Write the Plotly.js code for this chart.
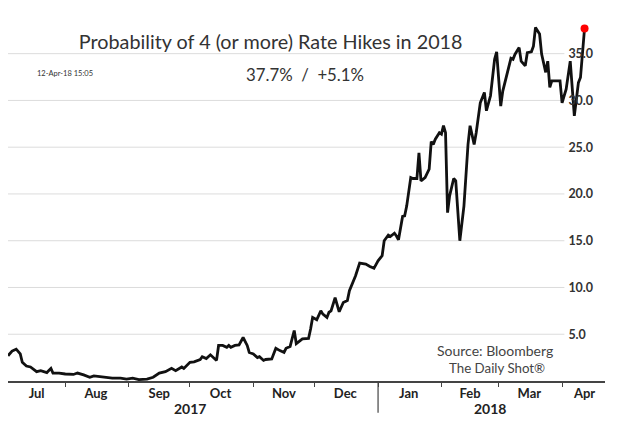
<!DOCTYPE html>
<html>
<head>
<meta charset="utf-8">
<script src="https://cdn.plot.ly/plotly-3.0.1.min.js"></script>
<style>html,body{margin:0;padding:0;background:#fff;}#chart{width:619px;height:428px;}</style>
</head>
<body>
<div id="chart"></div>
<script>
// Probability of 4 (or more) rate hikes in 2018 (%)
var dates = [
  '2017-07-04','2017-07-06','2017-07-08','2017-07-10','2017-07-11','2017-07-13','2017-07-15','2017-07-18','2017-07-20','2017-07-23',
  '2017-07-25','2017-07-26','2017-07-29','2017-08-01','2017-08-05','2017-08-07','2017-08-10','2017-08-13','2017-08-15','2017-08-18',
  '2017-08-21','2017-08-24','2017-08-28','2017-08-31','2017-09-03','2017-09-06','2017-09-10','2017-09-13','2017-09-16','2017-09-19',
  '2017-09-22','2017-09-24','2017-09-27','2017-09-28','2017-10-01','2017-10-03','2017-10-06','2017-10-07','2017-10-09','2017-10-11',
  '2017-10-14','2017-10-15','2017-10-17','2017-10-19','2017-10-20','2017-10-21','2017-10-23','2017-10-25','2017-10-27','2017-10-29',
  '2017-10-30','2017-11-01','2017-11-03','2017-11-04','2017-11-06','2017-11-07','2017-11-10','2017-11-12','2017-11-14','2017-11-16',
  '2017-11-17','2017-11-19','2017-11-21','2017-11-22','2017-11-25','2017-11-28','2017-11-29','2017-11-30','2017-12-02','2017-12-04',
  '2017-12-05','2017-12-07','2017-12-08','2017-12-09','2017-12-11','2017-12-13','2017-12-15','2017-12-17','2017-12-18','2017-12-21',
  '2017-12-23','2017-12-26','2017-12-28','2017-12-30','2018-01-01','2018-01-03','2018-01-04','2018-01-06','2018-01-07','2018-01-09',
  '2018-01-10','2018-01-11','2018-01-13','2018-01-14','2018-01-15','2018-01-17','2018-01-18','2018-01-20','2018-01-21','2018-01-22',
  '2018-01-24','2018-01-26','2018-01-27','2018-01-28','2018-01-29','2018-01-31','2018-02-01','2018-02-02','2018-02-03','2018-02-04',
  '2018-02-05','2018-02-07','2018-02-08','2018-02-10','2018-02-12','2018-02-14','2018-02-15','2018-02-17','2018-02-18','2018-02-20',
  '2018-02-22','2018-02-23','2018-02-25','2018-02-27','2018-02-28','2018-03-02','2018-03-03','2018-03-05','2018-03-07','2018-03-08',
  '2018-03-09','2018-03-11','2018-03-12','2018-03-14','2018-03-15','2018-03-17','2018-03-18','2018-03-19','2018-03-21','2018-03-22',
  '2018-03-24','2018-03-25','2018-03-26','2018-03-27','2018-03-30','2018-03-31','2018-04-01','2018-04-03','2018-04-05','2018-04-07',
  '2018-04-09','2018-04-10','2018-04-12'
];
var probability = [
  2.7,3.2,3.4,2.9,2.0,1.6,1.5,1.0,1.1,0.9,
  1.35,0.85,0.85,0.75,0.7,0.85,0.65,0.4,0.55,0.45,
  0.4,0.3,0.3,0.2,0.3,0.15,0.2,0.4,0.85,1.0,
  1.35,1.1,1.5,1.35,2.0,2.05,2.3,2.6,2.4,2.8,
  2.2,3.8,3.8,3.6,3.8,3.6,3.8,3.85,4.65,3.8,
  3.05,2.9,2.5,2.6,2.2,2.3,2.35,3.5,3.25,3.05,
  3.5,3.7,5.4,4.0,4.5,4.55,5.55,6.8,6.55,7.5,
  7.15,6.8,7.35,7.5,8.9,7.4,8.4,8.6,9.65,11.25,
  12.6,12.5,12.25,12.05,12.85,13.4,15.0,15.6,15.45,15.8,
  15.5,15.1,17.6,17.65,18.7,21.75,21.65,21.65,24.4,21.4,
  21.75,22.65,25.6,25.3,25.85,26.55,26.4,27.3,26.55,18.0,
  19.8,21.65,21.4,15.0,18.7,25.3,27.3,25.3,26.55,29.75,
  30.85,28.9,30.5,34.4,35.2,29.4,31.0,32.7,34.5,34.4,
  34.95,35.65,34.2,33.7,35.1,35.2,35.8,37.8,37.1,34.95,
  33.0,34.2,31.4,32.1,32.1,32.1,29.75,31.2,34.2,28.35,
  31.9,32.45,37.7
];
var yTicks = [5, 10, 15, 20, 25, 30, 35];
// month labels sit in the middle of the visible part of each month
var monthLabelDates = ['2017-07-18','2017-08-16','2017-09-16','2017-10-16','2017-11-16','2017-12-16',
                       '2018-01-16','2018-02-15','2018-03-16','2018-04-12'];
var monthLabels = ['Jul','Aug','Sep','Oct','Nov','Dec','Jan','Feb','Mar','Apr'];
var yearLabels = ['2017', '2018'];
var titleText = 'Probability of 4 (or more) Rate Hikes in 2018';
var latestText = '37.7%  /  +5.1%';
var stampText = '12-Apr-18 15:05';
var sourceLines = ['Source: Bloomberg', 'The Daily Shot®'];

var FONT = 'Lato, "Open Sans", sans-serif';
var last = dates.length - 1;

var traces = [
  {
    x: dates, y: probability, type: 'scatter', mode: 'lines',
    line: {color: '#111', width: 2.8}, hoverinfo: 'x+y', showlegend: false
  },
  {
    x: [dates[last]], y: [probability[last]], type: 'scatter', mode: 'markers',
    marker: {color: '#ff0000', size: 8}, showlegend: false, cliponaxis: false
  }
];

var gridShapes = yTicks.map(function (v) {
  return {type: 'line', xref: 'paper', yref: 'y', x0: 0, x1: 0.932, y0: v, y1: v,
          line: {color: '#dcdcdc', width: 1}, layer: 'below'};
});
gridShapes.push({type: 'line', xref: 'x', yref: 'paper', x0: '2018-01-01', x1: '2018-01-01',
                 y0: 0, y1: -0.088, line: {color: '#444', width: 1.2}});

var layout = {
  width: 619, height: 428,
  margin: {l: 8, r: 14, t: 20, b: 47},
  paper_bgcolor: '#fff', plot_bgcolor: '#fff',
  font: {family: FONT, color: '#333'},
  title: {text: titleText, x: 0.44, xref: 'paper', y: 0.902, yref: 'container',
          xanchor: 'center', yanchor: 'middle', font: {family: FONT, size: 19.8, color: '#333'}},
  xaxis: {
    type: 'date', range: ['2017-07-04', '2018-04-22'],
    tickmode: 'array', tickvals: monthLabelDates, ticktext: monthLabels, ticks: '',
    minor: {dtick: 'M1', tick0: '2017-07-01', ticks: 'outside', ticklen: 4, tickcolor: '#444',
            tickwidth: 1, showgrid: false},
    showgrid: false, zeroline: false, showline: true, linecolor: '#444', linewidth: 1.5,
    tickfont: {family: FONT, size: 13, color: '#222', weight: 'bold'}
  },
  yaxis: {
    range: [0, 38.6], anchor: 'free', position: 0.937, side: 'right',
    tickvals: yTicks, tickformat: '.1f', showgrid: false, zeroline: false, showline: false,
    ticks: '', tickfont: {family: FONT, size: 12.5, color: '#333', weight: 'bold'}
  },
  shapes: gridShapes,
  annotations: [
    {text: yearLabels[0], xref: 'paper', yref: 'paper', x: 0.305, y: -0.075, showarrow: false,
     xanchor: 'center', yanchor: 'middle', font: {family: FONT, size: 14, color: '#222', weight: 'bold'}},
    {text: yearLabels[1], xref: 'paper', yref: 'paper', x: 0.807, y: -0.075, showarrow: false,
     xanchor: 'center', yanchor: 'middle', font: {family: FONT, size: 14, color: '#222', weight: 'bold'}},
    {text: latestText, xref: 'paper', yref: 'paper', x: 0.498, y: 0.85, showarrow: false,
     xanchor: 'center', yanchor: 'middle', font: {family: FONT, size: 16.8, color: '#333'}},
    {text: stampText, xref: 'paper', yref: 'paper', x: 0.045, y: 0.853, showarrow: false,
     xanchor: 'left', yanchor: 'middle', font: {family: FONT, size: 7.5, color: '#333'}},
    {text: sourceLines[0], xref: 'paper', yref: 'paper', x: 0.816, y: 0.085, showarrow: false,
     xanchor: 'center', yanchor: 'middle', font: {family: FONT, size: 14, color: '#444'}},
    {text: sourceLines[1], xref: 'paper', yref: 'paper', x: 0.819, y: 0.036, showarrow: false,
     xanchor: 'center', yanchor: 'middle', font: {family: FONT, size: 13.3, color: '#444'}}
  ]
};

Plotly.newPlot('chart', traces, layout, {displayModeBar: false, staticPlot: true});
</script>
</body>
</html>
